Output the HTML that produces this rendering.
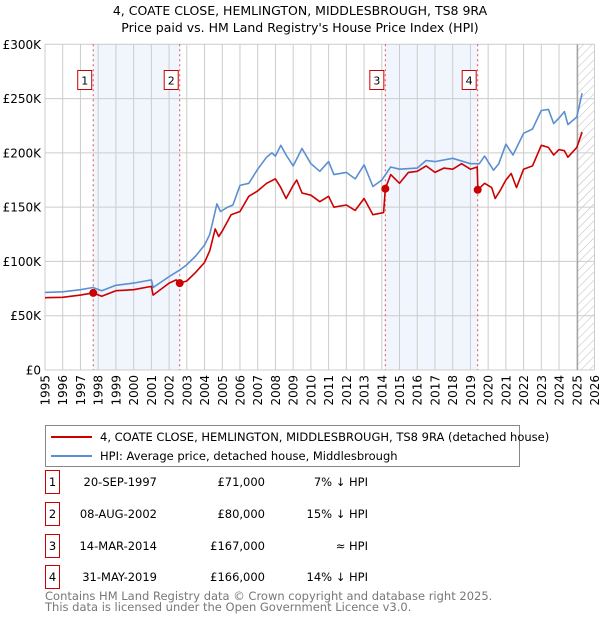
<!DOCTYPE html>
<html><head><meta charset="utf-8"><style>
body{margin:0;background:#fff;font-family:"Liberation Sans","DejaVu Sans",sans-serif;}
svg text{font-family:"DejaVu Sans","Liberation Sans",sans-serif;}
</style></head><body>
<svg id="c" width="600" height="620" viewBox="0 0 600 620" xmlns="http://www.w3.org/2000/svg">
<defs><pattern id="hatch" width="6" height="6" patternUnits="userSpaceOnUse" patternTransform="rotate(45)"><line x1="0" y1="0" x2="0" y2="6" stroke="#bbb" stroke-width="1"/></pattern></defs>
<text x="300" y="15" text-anchor="middle" font-size="12.5" fill="#000">4, COATE CLOSE, HEMLINGTON, MIDDLESBROUGH, TS8 9RA</text>
<text x="300" y="32" text-anchor="middle" font-size="12.5" fill="#000">Price paid vs. HM Land Registry's House Price Index (HPI)</text>
<g id="plot"></g>
<g>
<rect x="45.5" y="425.5" width="474" height="41" fill="#fff" stroke="#888"/>
<line x1="51" y1="437" x2="92" y2="437" stroke="#cc0000" stroke-width="2"/>
<text x="100" y="441" font-size="11.5">4, COATE CLOSE, HEMLINGTON, MIDDLESBROUGH, TS8 9RA (detached house)</text>
<line x1="51" y1="456" x2="92" y2="456" stroke="#5b8fd1" stroke-width="2"/>
<text x="100" y="460" font-size="11.5">HPI: Average price, detached house, Middlesbrough</text>
</g>
<g id="table" font-size="11.5"></g>
<text x="45" y="600" font-size="11.5" fill="#777">Contains HM Land Registry data © Crown copyright and database right 2025.</text>
<text x="45" y="611" font-size="11.5" fill="#777">This data is licensed under the Open Government Licence v3.0.</text>
</svg>
<script>
const years=[1995,1996,1997,1998,1999,2000,2001,2002,2003,2004,2005,2006,2007,2008,2009,2010,2011,2012,2013,2014,2015,2016,2017,2018,2019,2020,2021,2022,2023,2024,2025,2026];
const yTicks=[0,50,100,150,200,250,300];
const yTickLabels=["£0","£50K","£100K","£150K","£200K","£250K","£300K"];
const hpiT=[1995,1996,1997,1997.7,1998.2,1999,2000,2001,2001.1,2002,2002.6,2003,2003.5,2004,2004.3,2004.7,2004.9,2005.3,2005.6,2006,2006.5,2007,2007.5,2007.8,2008,2008.3,2008.6,2009,2009.5,2010,2010.5,2011,2011.3,2012,2012.5,2013,2013.5,2014,2014.5,2015,2016,2016.5,2017,2018,2019,2019.5,2019.8,2020.3,2020.6,2021,2021.4,2022,2022.5,2023,2023.4,2023.7,2024,2024.3,2024.5,2025,2025.3];
const hpiV=[71.5,72,74,76,73,78,80,83,76,86,92,97,105,115,125,153,146,150,152,170,172,185,196,200,197,207,198,188,204,190,183,192,180,182,176,189,169,175,187,185,186,193,192,195,190,190,197,184,190,208,198,218,222,239,240,227,232,238,226,233,255];
const ppT=[1995,1996,1997,1997.7,1998.2,1999,2000,2001,2001.1,2002,2002.4,2002.6,2003,2003.5,2004,2004.3,2004.6,2004.8,2005,2005.5,2006,2006.5,2007,2007.5,2008,2008.3,2008.6,2009,2009.2,2009.5,2010,2010.5,2011,2011.3,2012,2012.5,2013,2013.5,2014.1,2014.2,2014.5,2015,2015.5,2016,2016.5,2017,2017.5,2018,2018.5,2019,2019.38,2019.42,2019.8,2020.2,2020.4,2020.7,2021,2021.3,2021.6,2022,2022.5,2023,2023.4,2023.7,2024,2024.3,2024.5,2025,2025.3];
const ppV=[66.6,67,69,71,68,73,74,77,69,80,83,80,82,90,99,110,130,123,128,143,146,160,165,172,176,168,158,170,175,163,161,155,160,150,152,147,158,143,145,167,180,172,182,183,188,182,186,185,190,185,187,166,172,168,158,166,175,181,168,185,188,207,205,198,203,202,196,205,219];
const saleT=[1997.72,2002.6,2014.2,2019.41];
const saleV=[71,80,167,166];
const saleLabels=["1","2","3","4"];
const saleDates=["20-SEP-1997","08-AUG-2002","14-MAR-2014","31-MAY-2019"];
const salePrices=["£71,000","£80,000","£167,000","£166,000"];
const saleRel=["7% ↓ HPI","15% ↓ HPI","≈ HPI","14% ↓ HPI"];

const NS="http://www.w3.org/2000/svg";
const X0=45,X1=594.5,Y0=370,Y1=44.3;
const xs=t=>X0+(t-1995)/(2026-1995)*(X1-X0);
const ys=v=>Y0-v/300*(Y0-Y1);
const plot=document.getElementById('plot');
function mk(tag,at,parent){const e=document.createElementNS(NS,tag);for(const k in at)e.setAttribute(k,at[k]);(parent||plot).appendChild(e);return e;}
for(let i=0;i<4;i+=2){const r=mk('rect',{x:xs(saleT[i]),y:Y1,width:xs(saleT[i+1])-xs(saleT[i]),height:Y0-Y1,fill:'#eef3fc',opacity:0.8});

}
const h=mk('rect',{x:xs(2025.05),y:Y1,width:X1-xs(2025.05),height:Y0-Y1,fill:'url(#hatch)'});


years.forEach(y=>{const l=mk('line',{x1:xs(y),x2:xs(y),y1:Y1,y2:Y0,stroke:'#ccc','stroke-width':1});


const t=mk('text',{x:0,y:0,transform:`translate(${xs(y)+4.5},${Y0+5}) rotate(-90)`,'text-anchor':'end','font-size':'12'});
t.textContent=y;

});
yTicks.forEach((v,i)=>{const l=mk('line',{x1:X0,x2:X1,y1:ys(v),y2:ys(v),stroke:'#ccc','stroke-width':1});


const t=mk('text',{x:X0-4,y:ys(v)+4.5,'text-anchor':'end','font-size':'12'});
t.textContent=yTickLabels[i];

});
const vl=mk('line',{x1:xs(2025.05),x2:xs(2025.05),y1:Y1,y2:Y0,stroke:'#999','stroke-width':1});


saleT.forEach((t,i)=>{const l=mk('line',{x1:xs(t),x2:xs(t),y1:Y1,y2:Y0,stroke:'#e05050','stroke-width':1,'stroke-dasharray':'2,3'});


const b=mk('rect',{x:xs(t)-15.5,y:70.5,width:14,height:19,fill:'#fff',stroke:'#cc0000'});


const tx=mk('text',{x:xs(t)-8.5,y:84.5,'text-anchor':'middle','font-size':'11'});
tx.textContent=saleLabels[i];

});
const line=(T,V,c,n)=>{const p=mk('polyline',{points:T.map((t,i)=>xs(t).toFixed(1)+','+ys(V[i]).toFixed(1)).join(' '),fill:'none',stroke:c,'stroke-width':1.6,'stroke-linejoin':'round'});

};
line(hpiT,hpiV,'#5b8fd1','hpi-line');
line(ppT,ppV,'#cc0000','price-paid-line');
saleT.forEach((t,i)=>{const c=mk('circle',{cx:xs(t),cy:ys(saleV[i]),r:4,fill:'#cc0000'});

});
const tb=document.getElementById('table');
const rowY=[486,518,550,581];
saleT.forEach((t,i)=>{const y=rowY[i];
const b=mk('rect',{x:45.5,y:y-15.5,width:14,height:23,fill:'#fff',stroke:'#cc0000'},tb);


const cells=[[52.5,'middle',saleLabels[i],'table-index'],[157,'end',saleDates[i],'table-date'],[265,'end',salePrices[i],'table-price'],[368,'end',saleRel[i],'table-hpi-relation']];
cells.forEach(c=>{const e=mk('text',{x:c[0],y:y,'text-anchor':c[1]},tb);e.textContent=c[2];

});});
</script>
</body></html>
